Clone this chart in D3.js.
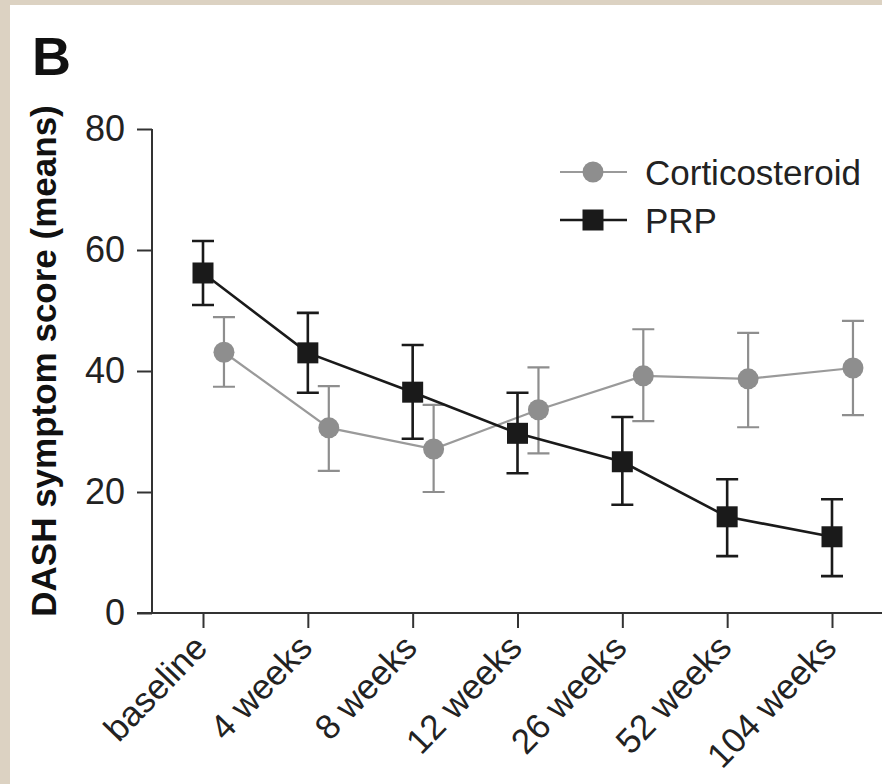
<!DOCTYPE html>
<html><head><meta charset="utf-8">
<script src="https://cdn.jsdelivr.net/npm/d3@7"></script>
<style>
html,body{margin:0;padding:0;background:#dcd2c2;}
svg{display:block;}
</style></head>
<body>
<svg id="c" width="882" height="784"></svg>
<script>
const categories = ["baseline","4 weeks","8 weeks","12 weeks","26 weeks","52 weeks","104 weeks"];
const corticoMean = [43.1, 30.6, 27.1, 33.6, 39.2, 38.7, 40.5];
const corticoHigh = [48.9, 37.5, 34.4, 40.6, 46.9, 46.3, 48.3];
const corticoLow  = [37.4, 23.5, 20.0, 26.4, 31.7, 30.7, 32.7];
const prpMean = [56.2, 43.0, 36.5, 29.7, 25.0, 15.9, 12.6];
const prpHigh = [61.5, 49.6, 44.3, 36.4, 32.4, 22.1, 18.8];
const prpLow  = [50.9, 36.4, 28.8, 23.1, 17.9, 9.4, 6.1];
const yTicks = [0, 20, 40, 60, 80];
const seriesNames = ["Corticosteroid", "PRP"];

const svg = d3.select("#c");
const FONT = "'Liberation Sans', Arial, Helvetica, sans-serif";

// white panel
svg.append("rect").attr("x",10).attr("y",5).attr("width",872).attr("height",779).attr("fill","#ffffff");

const x = d3.scalePoint().domain(categories).range([203, 832]);
const y = d3.scaleLinear().domain([0, 80]).range([613, 129]);
const shift = x.step() * 0.2;

const grey = "#8e8e8e", greyLine = "#9a9a9a", black = "#1a1a1a";

// panel letter
svg.append("text").attr("x",32).attr("y",75).text("B")
  .attr("font-family",FONT).attr("font-weight","bold").attr("font-size",54).attr("fill","#111");

// y axis
const yAxis = svg.append("g").attr("transform","translate(152,0)")
  .call(d3.axisLeft(y).tickValues(yTicks).tickSize(15).tickPadding(12));
yAxis.select(".domain").attr("d", `M0,${y(80)}V${y(0)}`).attr("stroke","#333").attr("stroke-width",2);
yAxis.selectAll(".tick line").attr("stroke","#333").attr("stroke-width",2);
yAxis.selectAll(".tick text").attr("font-family",FONT).attr("font-size",36).attr("fill","#222");

// x axis
const xAxis = svg.append("g").attr("transform",`translate(0,${y(0)})`)
  .call(d3.axisBottom(x).tickSize(15).tickPadding(0));
xAxis.select(".domain").attr("d","M137,0H882").attr("stroke","#333").attr("stroke-width",2);
xAxis.selectAll(".tick line").attr("stroke","#333").attr("stroke-width",2);
xAxis.selectAll(".tick text")
  .attr("font-family",FONT).attr("font-size",35).attr("fill","#222")
  .attr("text-anchor","end")
  .attr("transform","translate(-3,28) rotate(-46)")
  .attr("dy","0.35em").attr("y",0).attr("x",0);

// y title
svg.append("text")
  .attr("transform",`translate(56,${(y(0)+y(80))/2 - 10}) rotate(-90)`)
  .attr("text-anchor","middle")
  .attr("font-family",FONT).attr("font-weight","bold").attr("font-size",35).attr("fill","#111")
  .text("DASH symptom score (means)");

const idx = d3.range(categories.length);
const capW = 11;

// Cortico series
const cx = i => x(categories[i]) + shift;
const gC = svg.append("g");
gC.append("path").datum(idx)
  .attr("d", d3.line().x(i => cx(i)).y(i => y(corticoMean[i])))
  .attr("fill","none").attr("stroke",greyLine).attr("stroke-width",2.2);
idx.forEach(i => {
  gC.append("path")
    .attr("d",`M${cx(i)},${y(corticoHigh[i])}V${y(corticoLow[i])}M${cx(i)-capW},${y(corticoHigh[i])}H${cx(i)+capW}M${cx(i)-capW},${y(corticoLow[i])}H${cx(i)+capW}`)
    .attr("stroke",grey).attr("stroke-width",2.2).attr("fill","none");
});
gC.selectAll("circle").data(idx).join("circle")
  .attr("cx", i => cx(i)).attr("cy", i => y(corticoMean[i])).attr("r",10.5).attr("fill",grey);

// PRP series
const px = i => x(categories[i]);
const gP = svg.append("g");
gP.append("path").datum(idx)
  .attr("d", d3.line().x(i => px(i)).y(i => y(prpMean[i])))
  .attr("fill","none").attr("stroke",black).attr("stroke-width",2.6);
idx.forEach(i => {
  gP.append("path")
    .attr("d",`M${px(i)},${y(prpHigh[i])}V${y(prpLow[i])}M${px(i)-capW},${y(prpHigh[i])}H${px(i)+capW}M${px(i)-capW},${y(prpLow[i])}H${px(i)+capW}`)
    .attr("stroke",black).attr("stroke-width",2.6).attr("fill","none");
});
gP.selectAll("rect").data(idx).join("rect")
  .attr("x", i => px(i)-10.5).attr("y", i => y(prpMean[i])-10.5)
  .attr("width",21).attr("height",21).attr("fill",black);

// legend
const leg = svg.append("g");
const legY = [172, 220];
seriesNames.forEach((name, k) => {
  const col = k === 0 ? grey : black;
  leg.append("line").attr("x1",560).attr("x2",627).attr("y1",legY[k]).attr("y2",legY[k])
    .attr("stroke", k === 0 ? greyLine : black).attr("stroke-width", k === 0 ? 2.2 : 2.6);
  if (k === 0) {
    leg.append("circle").attr("cx",593).attr("cy",legY[k]).attr("r",10.5).attr("fill",col);
  } else {
    leg.append("rect").attr("x",593-10.5).attr("y",legY[k]-10.5).attr("width",21).attr("height",21).attr("fill",col);
  }
  leg.append("text").attr("x",645).attr("y",legY[k]).attr("dy","0.36em")
    .attr("font-family",FONT).attr("font-size",35).attr("fill","#222").text(name);
});
</script>
</body></html>
